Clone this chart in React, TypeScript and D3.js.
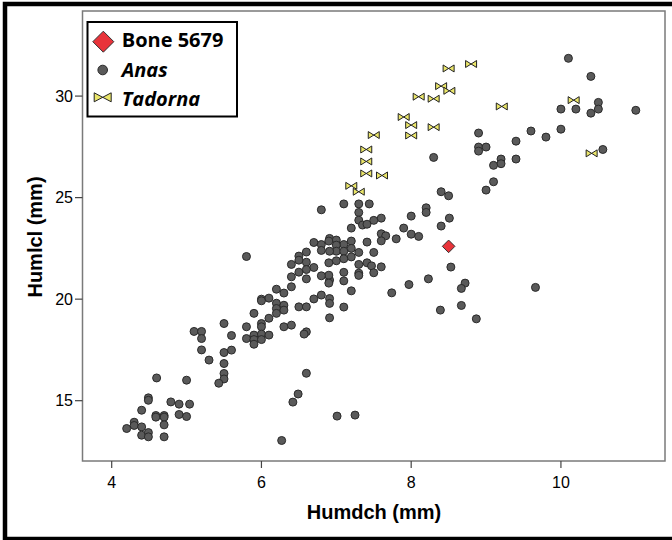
import React, { useEffect, useRef } from "react";
import * as d3 from "d3";

// Humdch (mm), Humlcl (mm) pairs
const anas: [number, number][] = [
  [10.1, 31.86], [10.4, 30.97], [10.5, 29.69], [10.0, 29.36], [10.2, 29.36],
  [10.4, 29.16], [10.5, 29.36], [11.0, 29.3], [10.0, 28.37], [9.8, 27.98],
  [9.6, 28.28], [9.4, 27.78], [10.56, 27.37], [8.9, 28.18], [8.9, 27.49],
  [9.0, 27.49], [8.9, 27.29], [8.3, 26.98], [9.4, 26.9], [9.2, 26.9],
  [9.2, 26.67], [9.1, 26.59], [9.1, 25.78], [9.0, 25.37], [8.4, 25.29],
  [8.5, 25.09], [7.1, 24.69], [7.3, 24.69], [7.44, 24.69], [7.3, 24.27],
  [7.3, 23.89], [7.35, 23.65], [7.41, 23.69], [7.5, 23.88], [7.6, 23.99],
  [7.2, 23.5], [8.2, 24.5], [8.2, 24.27], [8.0, 24.09], [8.51, 23.99],
  [8.4, 23.6], [7.9, 23.5], [8.0, 23.2], [8.1, 23.09], [7.6, 23.22],
  [7.66, 23.12], [7.6, 22.87], [7.8, 22.97], [7.41, 22.81], [6.91, 22.99],
  [7.0, 22.91], [7.1, 22.69], [7.2, 22.86], [7.0, 22.66], [7.2, 22.5],
  [7.0, 22.36], [7.1, 22.36], [7.3, 22.3], [7.5, 22.3], [6.91, 22.36],
  [7.0, 21.89], [7.1, 21.99], [7.2, 22.08], [7.3, 21.71], [7.41, 21.79],
  [7.47, 21.64], [7.6, 21.59], [7.3, 21.28], [7.3, 21.17], [7.5, 21.3],
  [7.1, 21.32], [7.1, 20.9], [6.91, 20.94], [7.2, 20.41], [6.91, 20.03],
  [6.91, 19.79], [7.1, 19.61], [6.91, 19.08], [8.53, 21.58], [8.23, 21.0],
  [7.97, 20.72], [7.74, 20.31], [8.72, 20.79], [8.67, 20.53], [9.66, 20.58],
  [8.39, 19.46], [8.67, 19.69], [8.87, 19.03], [6.8, 24.4], [5.8, 22.1],
  [6.7, 22.79], [6.8, 22.69], [6.9, 22.86], [6.9, 21.79], [6.9, 21.18],
  [6.9, 20.79], [6.8, 22.4], [6.6, 22.32], [6.5, 22.12], [6.5, 21.92],
  [6.6, 21.82], [6.4, 21.71], [6.7, 21.56], [6.6, 21.46], [6.5, 21.33],
  [6.6, 21.0], [6.4, 21.1], [6.8, 21.15], [6.4, 20.61], [6.2, 20.49],
  [6.3, 20.3], [6.0, 20.0], [6.1, 20.05], [6.0, 19.92], [6.2, 19.8],
  [6.3, 19.7], [6.2, 19.54], [6.3, 19.46], [6.2, 19.3], [6.1, 19.06],
  [5.9, 19.3], [6.5, 19.62], [6.6, 19.62], [6.7, 20.01], [6.8, 20.2],
  [5.5, 18.8], [5.8, 18.64], [6.0, 18.8], [6.0, 18.64], [6.3, 18.64],
  [6.4, 18.72], [6.6, 18.39], [6.57, 18.28], [5.1, 18.41], [5.2, 18.41],
  [5.2, 18.06], [5.6, 18.21], [5.8, 18.06], [5.9, 18.23], [6.0, 18.28],
  [6.1, 18.23], [5.9, 18.01], [5.9, 17.78], [6.0, 18.01], [5.2, 17.5],
  [5.5, 17.37], [5.6, 17.49], [5.5, 16.83], [5.5, 16.34], [5.5, 16.07],
  [5.43, 15.86], [5.3, 17.0], [4.6, 16.12], [5.0, 16.01], [6.6, 16.35],
  [6.49, 15.33], [6.42, 14.93], [7.01, 14.24], [6.27, 13.04], [4.49, 15.14],
  [4.49, 15.02], [4.4, 14.53], [4.79, 14.94], [4.9, 14.83], [5.04, 14.83],
  [4.59, 14.27], [4.7, 14.27], [4.59, 14.19], [4.7, 14.19], [4.9, 14.32],
  [5.0, 14.22], [4.7, 13.81], [4.7, 13.22], [4.3, 13.94], [4.3, 13.78],
  [4.2, 13.63], [4.4, 13.71], [4.4, 13.3], [4.49, 13.43], [4.49, 13.22],
  [7.25, 14.29],
];

const tadorna: [number, number][] = [
  [8.8, 31.58], [8.5, 31.36], [8.4, 30.49], [8.51, 30.26], [8.1, 29.97],
  [8.3, 29.87], [9.21, 29.49], [10.17, 29.8], [7.9, 28.97], [8.0, 28.57],
  [8.3, 28.47], [8.0, 28.06], [7.5, 28.08], [7.4, 27.37], [7.4, 26.78],
  [7.4, 26.19], [7.61, 26.09], [7.2, 25.58], [7.3, 25.29], [10.41, 27.18],
];

const bone: [number, number][] = [[8.5, 22.6]];

const xTicks = [4, 6, 8, 10];
const yTicks = [15, 20, 25, 30];
const legendLabels = ["Bone 5679", "Anas", "Tadorna"];

const W = 672;
const H = 540;

const bowtie = (w: number, h: number) =>
  `M${-w},${-h}L${w},${h}L${w},${-h}L${-w},${h}Z`;
const diamond = (r: number) => `M0,${-r}L${r},0L0,${r}L${-r},0Z`;

const App: React.FC = () => {
  const ref = useRef<SVGSVGElement | null>(null);

  useEffect(() => {
    if (!ref.current) return;
    const svg = d3.select(ref.current);
    svg.selectAll("*").remove();

    const x = d3.scaleLinear().domain([3.61, 11.39]).range([82.5, 665]);
    const y = d3.scaleLinear().domain([12.03, 34.19]).range([461, 11]);

    svg.append("rect").attr("width", W).attr("height", H).attr("fill", "#fff");

    // plot frame
    svg
      .append("rect")
      .attr("x", 82.5)
      .attr("y", 11)
      .attr("width", 665 - 82.5)
      .attr("height", 461 - 11)
      .attr("fill", "none")
      .attr("stroke", "#7a7a7a")
      .attr("stroke-width", 1.5);

    // x axis
    const xa = svg.append("g");
    xa.selectAll("line")
      .data(xTicks)
      .enter()
      .append("line")
      .attr("x1", (d) => x(d))
      .attr("x2", (d) => x(d))
      .attr("y1", 461)
      .attr("y2", 468)
      .attr("stroke", "#444")
      .attr("stroke-width", 1.2);
    xa.selectAll("text")
      .data(xTicks)
      .enter()
      .append("text")
      .attr("x", (d) => x(d))
      .attr("y", 487.5)
      .attr("text-anchor", "middle")
      .attr("font-family", "Liberation Sans, Arial, sans-serif")
      .attr("font-size", 16)
      .text((d) => d);

    // y axis
    const ya = svg.append("g");
    ya.selectAll("line")
      .data(yTicks)
      .enter()
      .append("line")
      .attr("x1", 75)
      .attr("x2", 82.5)
      .attr("y1", (d) => y(d))
      .attr("y2", (d) => y(d))
      .attr("stroke", "#444")
      .attr("stroke-width", 1.2);
    ya.selectAll("text")
      .data(yTicks)
      .enter()
      .append("text")
      .attr("x", 73)
      .attr("y", (d) => y(d) + 5.7)
      .attr("text-anchor", "end")
      .attr("font-family", "Liberation Sans, Arial, sans-serif")
      .attr("font-size", 16)
      .text((d) => d);

    // axis titles
    svg
      .append("text")
      .attr("x", 374)
      .attr("y", 519)
      .attr("text-anchor", "middle")
      .attr("font-family", "Liberation Sans, Arial, sans-serif")
      .attr("font-weight", "bold")
      .attr("font-size", 20)
      .text("Humdch (mm)");
    svg
      .append("text")
      .attr("transform", "translate(42,237) rotate(-90)")
      .attr("text-anchor", "middle")
      .attr("font-family", "Liberation Sans, Arial, sans-serif")
      .attr("font-weight", "bold")
      .attr("font-size", 20)
      .text("Humlcl (mm)");

    // Anas points
    svg
      .append("g")
      .selectAll("circle")
      .data(anas)
      .enter()
      .append("circle")
      .attr("cx", (d) => x(d[0]))
      .attr("cy", (d) => y(d[1]))
      .attr("r", 4)
      .attr("fill", "#5a5a5a")
      .attr("stroke", "#2a2a2a")
      .attr("stroke-width", 1);

    // Tadorna points
    svg
      .append("g")
      .selectAll("path")
      .data(tadorna)
      .enter()
      .append("path")
      .attr("transform", (d) => `translate(${x(d[0])},${y(d[1])})`)
      .attr("d", bowtie(5.5, 3.5))
      .attr("fill", "#ebe66a")
      .attr("stroke", "#222")
      .attr("stroke-width", 1);

    // Bone 5679
    svg
      .append("g")
      .selectAll("path")
      .data(bone)
      .enter()
      .append("path")
      .attr("transform", (d) => `translate(${x(d[0])},${y(d[1])})`)
      .attr("d", diamond(6.3))
      .attr("fill", "#e8333a")
      .attr("stroke", "#333")
      .attr("stroke-width", 1);

    // legend
    const lg = svg.append("g");
    lg.append("rect")
      .attr("x", 87.5)
      .attr("y", 22)
      .attr("width", 149.5)
      .attr("height", 94.5)
      .attr("fill", "#fff")
      .attr("stroke", "#000")
      .attr("stroke-width", 2);
    lg.append("path")
      .attr("transform", "translate(103.3,41.7)")
      .attr("d", diamond(10.5))
      .attr("fill", "#e8333a")
      .attr("stroke", "#333")
      .attr("stroke-width", 1);
    lg.append("circle")
      .attr("cx", 102.7)
      .attr("cy", 70)
      .attr("r", 4.8)
      .attr("fill", "#5a5a5a")
      .attr("stroke", "#2a2a2a");
    lg.append("path")
      .attr("transform", "translate(102.7,97.3)")
      .attr("d", bowtie(8.5, 4.5))
      .attr("fill", "#ebe66a")
      .attr("stroke", "#222")
      .attr("stroke-width", 1);
    const baselines = [47.3, 77.3, 106];
    lg.selectAll("text")
      .data(legendLabels)
      .enter()
      .append("text")
      .attr("x", 121.7)
      .attr("y", (_, i) => baselines[i])
      .attr("font-family", "Open Sans, sans-serif")
      .attr("font-weight", "bold")
      .attr("font-style", (_, i) => (i === 0 ? "normal" : "italic"))
      .attr("font-size", 20)
      .text((d) => d);

    // outer black frame (right side cropped in original)
    svg
      .append("rect")
      .attr("x", 5)
      .attr("y", 4)
      .attr("width", 720)
      .attr("height", 535)
      .attr("fill", "none")
      .attr("stroke", "#000")
      .attr("stroke-width", 4.5);
  }, []);

  return (
    <svg
      ref={ref}
      width={W}
      height={H}
      style={{ position: "absolute", left: 0, top: 0 }}
    />
  );
};

export default App;
